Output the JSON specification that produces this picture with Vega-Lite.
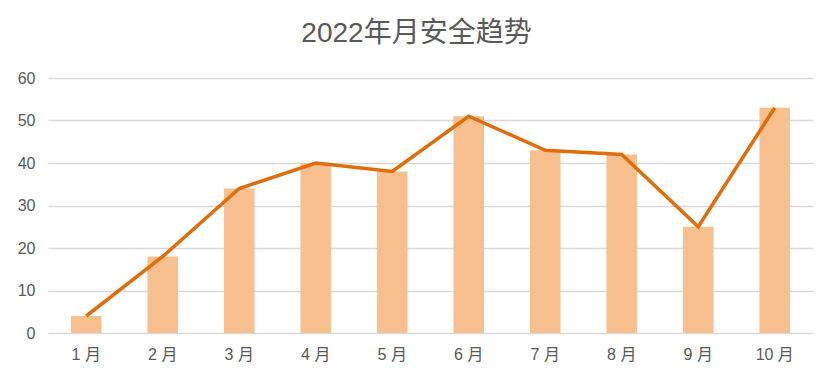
{
  "$schema": "https://vega.github.io/schema/vega-lite/v6.json",
  "width": 765,
  "height": 255,
  "autosize": {"type": "none"},
  "padding": {"left": 48, "top": 78, "right": 24, "bottom": 49},
  "background": "white",
  "config": {
    "font": "Liberation Sans, Noto Sans CJK SC",
    "view": {"stroke": null}
  },
  "title": {
    "text": "2022年月安全趋势",
    "fontSize": 28,
    "fontWeight": "normal",
    "color": "#595959",
    "font": "Liberation Sans, Noto Sans CJK SC",
    "anchor": "middle",
    "dx": -14,
    "offset": 22
  },
  "data": {
    "values": [
      {"month": "1 月", "value": 4},
      {"month": "2 月", "value": 18},
      {"month": "3 月", "value": 34},
      {"month": "4 月", "value": 40},
      {"month": "5 月", "value": 38},
      {"month": "6 月", "value": 51},
      {"month": "7 月", "value": 43},
      {"month": "8 月", "value": 42},
      {"month": "9 月", "value": 25},
      {"month": "10 月", "value": 53}
    ]
  },
  "encoding": {
    "x": {
      "field": "month",
      "type": "nominal",
      "sort": null,
      "scale": {"paddingInner": 0.6, "paddingOuter": 0.3},
      "axis": {
        "title": null,
        "labelAngle": 0,
        "labelFontSize": 16,
        "labelColor": "#595959",
        "labelPadding": 13,
        "domain": false,
        "ticks": false
      }
    },
    "y": {
      "field": "value",
      "type": "quantitative",
      "scale": {"domain": [0, 60]},
      "axis": {
        "title": null,
        "values": [0, 10, 20, 30, 40, 50, 60],
        "labelFontSize": 16,
        "labelColor": "#595959",
        "labelPadding": 13,
        "domain": false,
        "ticks": false,
        "gridColor": "#d9d9d9",
        "gridWidth": 1.5
      }
    }
  },
  "layer": [
    {"mark": {"type": "bar", "color": "#f9c08f"}},
    {"mark": {"type": "line", "color": "#e36c0a", "strokeWidth": 3.5}}
  ]
}
